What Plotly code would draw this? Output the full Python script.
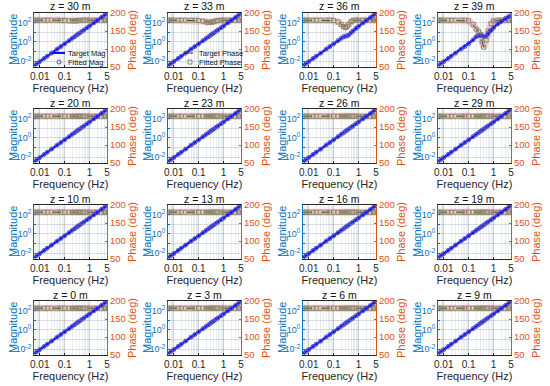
import plotly.graph_objects as go

# ---------------- data ----------------
depths = [30, 33, 36, 39, 20, 23, 26, 29, 10, 13, 16, 19, 0, 3, 6, 9]

freq = [0.006, 0.008, 0.01, 0.015, 0.02, 0.03, 0.05, 0.07, 0.1, 0.15, 0.2, 0.25,
        0.3, 0.35, 0.4, 0.5, 0.6, 0.8, 1, 1.5, 2, 3, 4, 5]

mag_base = [0.00355, 0.00604, 0.00912, 0.0193, 0.0329, 0.0695, 0.179, 0.333, 0.644,
            1.36, 2.32, 3.51, 4.91, 6.53, 8.36, 12.6, 17.7, 30.1, 45.5, 96.3, 164,
            347, 591, 891]
mag_36 = [0.00355, 0.00604, 0.00912, 0.0193, 0.0329, 0.0695, 0.179, 0.333, 0.644,
          1.36, 2.4, 3.4, 3.9, 4.3, 5.2, 9.0, 14.0, 26.0, 42.0, 92.0, 160,
          340, 580, 880]
mag_39 = [0.00355, 0.00604, 0.00912, 0.0193, 0.0329, 0.0695, 0.179, 0.333, 0.644,
          1.6, 3.5, 4.5, 4.6, 4.3, 3.6, 4.0, 7.0, 16.0, 30.0, 75.0, 130,
          280, 420, 560]

phase_flat = [180, 180, 180, 180, 180, 180, 180, 180, 180, 180, 180, 180,
              180, 180, 180, 180, 180, 180, 180, 180, 180, 180, 180, 180]
phase_30 = [180, 180, 180, 180, 180, 180, 180, 179, 179, 178, 178, 178,
            178, 179, 179, 180, 180, 180, 180, 180, 180, 180, 180, 180]
phase_33 = [180, 180, 180, 180, 180, 180, 180, 180, 179, 177, 175, 174,
            174, 175, 176, 178, 179, 180, 180, 180, 180, 180, 180, 180]
phase_36 = [180, 180, 180, 180, 180, 180, 180, 180, 179, 175, 168, 162,
            160, 163, 169, 176, 179, 180, 180, 180, 180, 180, 180, 180]
phase_39 = [180, 180, 180, 180, 180, 180, 180, 180, 178, 168, 155, 148,
            140, 120, 105, 125, 150, 170, 178, 180, 180, 180, 180, 180]

mag_sets = {36: mag_36, 39: mag_39}
phase_sets = {30: phase_30, 33: phase_33, 36: phase_36, 39: phase_39}

x_ticks = [0.01, 0.1, 1, 5]
x_ticktext = ["0.01", "0.1", "1", "5"]
mag_tickvals = [0.001, 0.01, 0.1, 1, 10, 100, 1000]
mag_ticktext = ["", "10<sup>-2</sup>", "", "10<sup>0</sup>", "", "10<sup>2</sup>", ""]
phase_ticks = [50, 100, 150, 200]

# ---------------- style ----------------
BLUE = "#0072BD"
ORANGE = "#D95319"
FONT = "Liberation Sans, Arial, sans-serif"
W, H = 550, 386
col_left = [34, 168, 303, 438]
row_top = [13, 109, 205, 301]
pw, ph = 73, 54
grid = "rgba(120,140,160,0.30)"
mgrid = "rgba(120,140,160,0.15)"

fig = go.Figure()
layout = {}
annotations = []
shapes = []

for k, z in enumerate(depths):
    r, c = divmod(k, 4)
    l = col_left[c]
    t = row_top[r]
    xd = [l / W, (l + pw) / W]
    yd = [1 - (t + ph) / H, 1 - t / H]
    xn = "x" if k == 0 else f"x{k + 1}"
    xk = "xaxis" if k == 0 else f"xaxis{k + 1}"
    pi = 2 * k + 1
    mi = 2 * k + 2
    py = "y" if pi == 1 else f"y{pi}"
    pk = "yaxis" if pi == 1 else f"yaxis{pi}"
    my = f"y{mi}"
    mk = f"yaxis{mi}"

    mag = mag_sets.get(z, mag_base)
    phs = phase_sets.get(z, phase_flat)

    fig.add_trace(go.Scatter(x=freq, y=phs, xaxis=xn, yaxis=py, mode="lines",
                             line=dict(color="rgba(255,80,110,0.30)", width=7),
                             showlegend=False, hoverinfo="skip"))
    fig.add_trace(go.Scatter(x=freq, y=phs, xaxis=xn, yaxis=py, mode="lines",
                             line=dict(color="#333333", width=1, dash="dash"),
                             name="Target Phase", showlegend=False))
    fig.add_trace(go.Scatter(x=freq, y=phs, xaxis=xn, yaxis=py, mode="markers",
                             marker=dict(symbol="square-open", size=4,
                                         color="#8a8a6a", line=dict(width=1)),
                             name="Fitted Phase", showlegend=False))
    fig.add_trace(go.Scatter(x=freq, y=mag, xaxis=xn, yaxis=my, mode="lines",
                             line=dict(color="#1010F0", width=2.5),
                             name="Target Mag", showlegend=False))
    fig.add_trace(go.Scatter(x=freq, y=mag, xaxis=xn, yaxis=my, mode="markers",
                             marker=dict(symbol="circle-open", size=4,
                                         color="#5050C8", line=dict(width=1)),
                             name="Fitted Mag", showlegend=False))

    layout[xk] = dict(domain=xd, anchor=py, type="log", automargin=False,
                      range=[-2.23, 0.699], tickvals=x_ticks, ticktext=x_ticktext,
                      showgrid=True, gridcolor=grid, gridwidth=1,
                      minor=dict(dtick="D1", showgrid=True, gridcolor=mgrid, ticks=""),
                      showline=True, linecolor="#262626", linewidth=1, mirror=True,
                      ticks="inside", ticklen=2, tickcolor="#262626",
                      tickfont=dict(size=10, color="#262626", family=FONT),
                      title=dict(text="Frequency (Hz)", standoff=3,
                                 font=dict(size=11, color="#262626", family=FONT)),
                      zeroline=False)
    layout[pk] = dict(domain=yd, anchor=xn, side="right", range=[50, 200],
                      automargin=False,
                      tickvals=phase_ticks, showgrid=False, zeroline=False,
                      showline=True, linecolor=ORANGE, linewidth=1,
                      ticks="inside", ticklen=2, tickcolor=ORANGE,
                      tickfont=dict(size=9.5, color=ORANGE, family=FONT),
                      title=dict(text="Phase (deg)", standoff=2,
                                 font=dict(size=11, color=ORANGE, family=FONT)))
    layout[mk] = dict(overlaying=py, anchor=xn, side="left", type="log",
                      automargin=False,
                      range=[-2.6, 3.0], tickvals=mag_tickvals, ticktext=mag_ticktext,
                      showgrid=True, gridcolor=grid, zeroline=False,
                      showline=True, linecolor=BLUE, linewidth=1,
                      ticks="inside", ticklen=2, tickcolor=BLUE,
                      tickfont=dict(size=9, color=BLUE, family=FONT))
    annotations.append(dict(text="Magnitude", textangle=-90,
                            x=(l - 21) / W, y=1 - (t + ph / 2) / H,
                            xref="paper", yref="paper", xanchor="center",
                            yanchor="middle", showarrow=False,
                            font=dict(size=11, color=BLUE, family=FONT)))
    annotations.append(dict(text=f"z = {z} m", x=(l + pw / 2) / W, y=1 - (t - 6.5) / H,
                            xref="paper", yref="paper", xanchor="center",
                            yanchor="middle", showarrow=False,
                            font=dict(size=10.5, color="#111111", family=FONT)))

# ---- compact legends drawn inside the first two panels ----
def px(xp):
    return xp / W

def py_(yp):
    return 1 - yp / H

leg_font = dict(size=7.5, color="#111111", family=FONT)
legend_items = [
    (0, 53, "line", "Target Mag"),
    (0, 62, "circle", "Fitted Mag"),
    (1, 53, "dash", "Target Phase"),
    (1, 62, "square", "Fitted Phase"),
]
glyph_x0 = {0: 53, 1: 184}
for col, yy, glyph, label in legend_items:
    gx = glyph_x0[col]
    if glyph == "line":
        shapes.append(dict(type="line", xref="paper", yref="paper",
                           x0=px(gx), x1=px(gx + 12), y0=py_(yy), y1=py_(yy),
                           line=dict(color="#1010F0", width=2)))
    elif glyph == "dash":
        shapes.append(dict(type="line", xref="paper", yref="paper",
                           x0=px(gx), x1=px(gx + 12), y0=py_(yy), y1=py_(yy),
                           line=dict(color="#333333", width=1, dash="dash")))
    elif glyph == "circle":
        shapes.append(dict(type="circle", xref="paper", yref="paper",
                           x0=px(gx + 4), x1=px(gx + 8), y0=py_(yy + 2), y1=py_(yy - 2),
                           line=dict(color="#5050C8", width=1)))
    else:
        shapes.append(dict(type="rect", xref="paper", yref="paper",
                           x0=px(gx + 4), x1=px(gx + 8), y0=py_(yy + 2), y1=py_(yy - 2),
                           line=dict(color="#8a8a6a", width=1)))
    annotations.append(dict(text=label, x=px(gx + 13), y=py_(yy), xref="paper",
                            yref="paper", xanchor="left", yanchor="middle",
                            showarrow=False, font=leg_font))

fig.update_layout(
    width=W, height=H, margin=dict(l=0, r=0, t=0, b=0),
    paper_bgcolor="white", plot_bgcolor="white",
    font=dict(family=FONT),
    annotations=annotations, shapes=shapes,
    showlegend=False,
    **layout,
)

fig.write_html("out.html", config={"displayModeBar": False},
               post_script="document.body.style.margin='0px';")
